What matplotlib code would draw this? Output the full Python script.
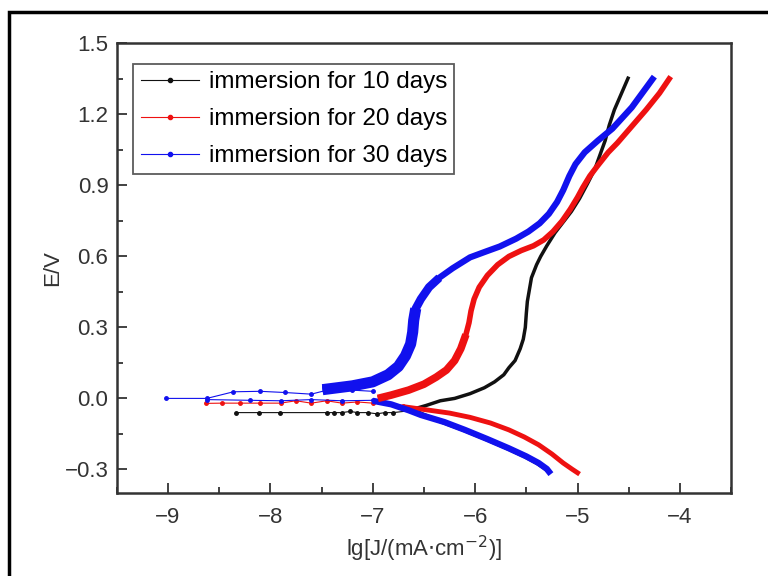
import matplotlib.pyplot as plt
from matplotlib.patches import Rectangle
from matplotlib.ticker import MultipleLocator

plt.rcParams['font.family'] = ['Liberation Sans', 'DejaVu Sans']

# 10 days (black)
d10_cat_x = [-5.28, -5.32, -5.40, -5.52, -5.69, -5.90, -6.12, -6.32, -6.50, -6.60]
d10_cat_y = [-0.31, -0.295, -0.272, -0.244, -0.21, -0.171, -0.132, -0.10, -0.07, -0.05]
d10_sp_x = [-6.60, -6.80, -6.88, -6.96, -7.05, -7.15, -7.22, -7.30, -7.38, -7.45, -7.91, -8.11, -8.34]
d10_sp_y = [-0.05, -0.06, -0.06, -0.065, -0.06, -0.06, -0.055, -0.06, -0.06, -0.06, -0.06, -0.06, -0.06]
d10_an_x = [-6.60, -6.48, -6.34, -6.20, -6.05, -5.91, -5.81, -5.72, -5.67, -5.61, -5.56, -5.53,
            -5.51, -5.50, -5.49, -5.47, -5.45, -5.40, -5.36, -5.30, -5.22, -5.14, -5.06, -4.98,
            -4.90, -4.83, -4.78, -4.73, -4.69, -4.64, -4.59, -4.55, -4.50]
d10_an_y = [-0.045, -0.03, -0.01, 0.0, 0.02, 0.045, 0.07, 0.10, 0.13, 0.16, 0.21, 0.25,
            0.30, 0.36, 0.41, 0.46, 0.51, 0.565, 0.60, 0.645, 0.70, 0.745, 0.79, 0.845,
            0.91, 0.97, 1.03, 1.09, 1.155, 1.22, 1.27, 1.31, 1.36]

# 20 days (red)
d20_cat_x = [-4.98, -5.05, -5.14, -5.25, -5.38, -5.52, -5.67, -5.85, -6.05, -6.25, -6.48, -6.70]
d20_cat_y = [-0.32, -0.30, -0.273, -0.235, -0.196, -0.163, -0.133, -0.104, -0.08, -0.062, -0.048, -0.035]
d20_sp_x = [-6.70, -6.85, -7.00, -7.15, -7.30, -7.45, -7.60, -7.75, -7.90, -8.10, -8.30, -8.47, -8.63]
d20_sp_y = [-0.03, -0.02, -0.02, -0.015, -0.02, -0.01, -0.02, -0.01, -0.02, -0.02, -0.02, -0.02, -0.021]
d20_an_x = [-6.95, -6.82, -6.65, -6.50, -6.38, -6.28, -6.20, -6.14, -6.09, -6.06, -6.04, -6.01,
            -5.96, -5.88, -5.78, -5.67, -5.55, -5.43, -5.33, -5.24, -5.15, -5.07, -5.00, -4.95,
            -4.88, -4.81, -4.70, -4.61, -4.45, -4.33, -4.20, -4.09]
d20_an_y = [0.0, 0.014, 0.035, 0.06, 0.09, 0.12, 0.16, 0.21, 0.27, 0.32, 0.37, 0.42,
            0.47, 0.52, 0.565, 0.60, 0.625, 0.645, 0.67, 0.705, 0.75, 0.80, 0.85, 0.89,
            0.94, 0.98, 1.04, 1.08, 1.16, 1.22, 1.29, 1.36]

# 30 days (blue)
d30_cat_x = [-5.26, -5.30, -5.38, -5.50, -5.67, -5.88, -6.10, -6.30, -6.53, -6.65, -6.82, -7.00]
d30_cat_y = [-0.32, -0.298, -0.273, -0.245, -0.211, -0.172, -0.133, -0.10, -0.07, -0.05, -0.025, -0.01]
d30_sp_x = [-7.00, -7.20, -7.40, -7.60, -7.86, -8.10, -8.36, -8.62, -9.02]
d30_sp_y = [0.03, 0.035, 0.04, 0.018, 0.025, 0.03, 0.028, 0.0, 0.0]
d30_sp2_x = [-7.00, -7.30, -7.60, -7.90, -8.20, -8.62]
d30_sp2_y = [-0.008, -0.01, -0.005, -0.01, -0.008, -0.005]
d30_an_x = [-7.49, -7.20, -7.00, -6.85, -6.75, -6.68, -6.63, -6.61, -6.60, -6.58, -6.53, -6.45,
            -6.35, -6.22, -6.05, -5.90, -5.76, -5.60, -5.48, -5.37, -5.28, -5.20, -5.14, -5.08,
            -5.02, -4.93, -4.80, -4.66, -4.47, -4.25]
d30_an_y = [0.037, 0.053, 0.07, 0.10, 0.135, 0.18, 0.23, 0.28, 0.33, 0.38, 0.42, 0.47,
            0.51, 0.55, 0.596, 0.62, 0.642, 0.675, 0.705, 0.74, 0.78, 0.83, 0.88, 0.94,
            0.99, 1.04, 1.09, 1.14, 1.23, 1.36]

labels = ['immersion for 10 days', 'immersion for 20 days', 'immersion for 30 days']
black, red, blue = '#111111', '#ee1111', '#1111ee'

fig = plt.figure(figsize=(7.68, 5.76), dpi=100)
ax = fig.add_axes([0.152, 0.144, 0.800, 0.7805])

# sparse points near the corrosion potential
ax.plot(d10_sp_x, d10_sp_y, '-o', color=black, lw=0.8, ms=2.5)
ax.plot(d20_sp_x, d20_sp_y, '-o', color=red, lw=0.8, ms=2.5)
ax.plot(d30_sp2_x, d30_sp2_y, '-o', color=blue, lw=0.8, ms=2.5)
ax.plot(d30_sp_x, d30_sp_y, '-o', color=blue, lw=0.8, ms=2.5)

# branches
kw = dict(solid_joinstyle='round', solid_capstyle='butt')
ax.plot(d10_cat_x, d10_cat_y, color=black, lw=3, **kw)
ax.plot(d10_an_x, d10_an_y, color=black, lw=2.5, **kw)
ax.plot(d20_cat_x, d20_cat_y, color=red, lw=3.5, **kw)
ax.plot(d20_an_x, d20_an_y, color=red, lw=4, **kw)
ax.plot(d30_cat_x, d30_cat_y, color=blue, lw=4.5, **kw)
ax.plot(d30_an_x, d30_an_y, color=blue, lw=4.5, **kw)
# noisy bands at low current
ax.plot(d30_an_x[:10], d30_an_y[:10], color=blue, lw=8, **kw)
ax.plot(d30_an_x[:13], d30_an_y[:13], color=blue, lw=6, **kw)
ax.plot(d20_an_x[:9], d20_an_y[:9], color=red, lw=5.5, **kw)

# legend handles
for lab, c in zip(labels, [black, red, blue]):
    ax.plot([], [], '-o', color=c, lw=0.8, ms=3, label=lab)
h, l = ax.get_legend_handles_labels()
leg = ax.legend(h, l, loc='upper left', bbox_to_anchor=(0.027, 0.955), fontsize=17.5,
                frameon=True, fancybox=False, edgecolor='#333333', handlelength=2.4,
                labelspacing=0.62, borderpad=0.3, handletextpad=0.4, borderaxespad=0)
leg.get_frame().set_linewidth(1.3)

ax.set_xlim(-9.5, -3.5)
ax.set_ylim(-0.4, 1.5)
ax.set_xticks([-9, -8, -7, -6, -5, -4])
ax.set_yticks([-0.3, 0.0, 0.3, 0.6, 0.9, 1.2, 1.5])
ax.set_yticklabels(['\u22120.3', '0.0', '0.3', '0.6', '0.9', '1.2', '1.5'])
ax.set_xticklabels(['\u22129', '\u22128', '\u22127', '\u22126', '\u22125', '\u22124'])
ax.xaxis.set_minor_locator(MultipleLocator(0.5))
ax.yaxis.set_minor_locator(MultipleLocator(0.15))
ax.tick_params(which='both', direction='in', top=False, right=False,
               labelsize=16, colors='#333333', width=1.3)
ax.tick_params(axis='x', which='major', length=7, pad=10)
ax.tick_params(axis='y', which='major', length=7, pad=6)
ax.tick_params(which='minor', length=4)
for s in ax.spines.values():
    s.set_color('#333333')
    s.set_linewidth(1.8)

ax.set_xlabel('lg[J/(mA$\\cdot$cm$^{-2}$)]', fontsize=16, color='#333333', labelpad=4)
ax.set_ylabel('E/V', fontsize=16, color='#333333', labelpad=1)

# outer frame
fig.patches.append(Rectangle((9 / 768, -0.1), 1.2, 1 - 12 / 576 + 0.1, transform=fig.transFigure,
                             fill=False, edgecolor='black', lw=2.5))

fig.savefig('out.png', dpi=100)
